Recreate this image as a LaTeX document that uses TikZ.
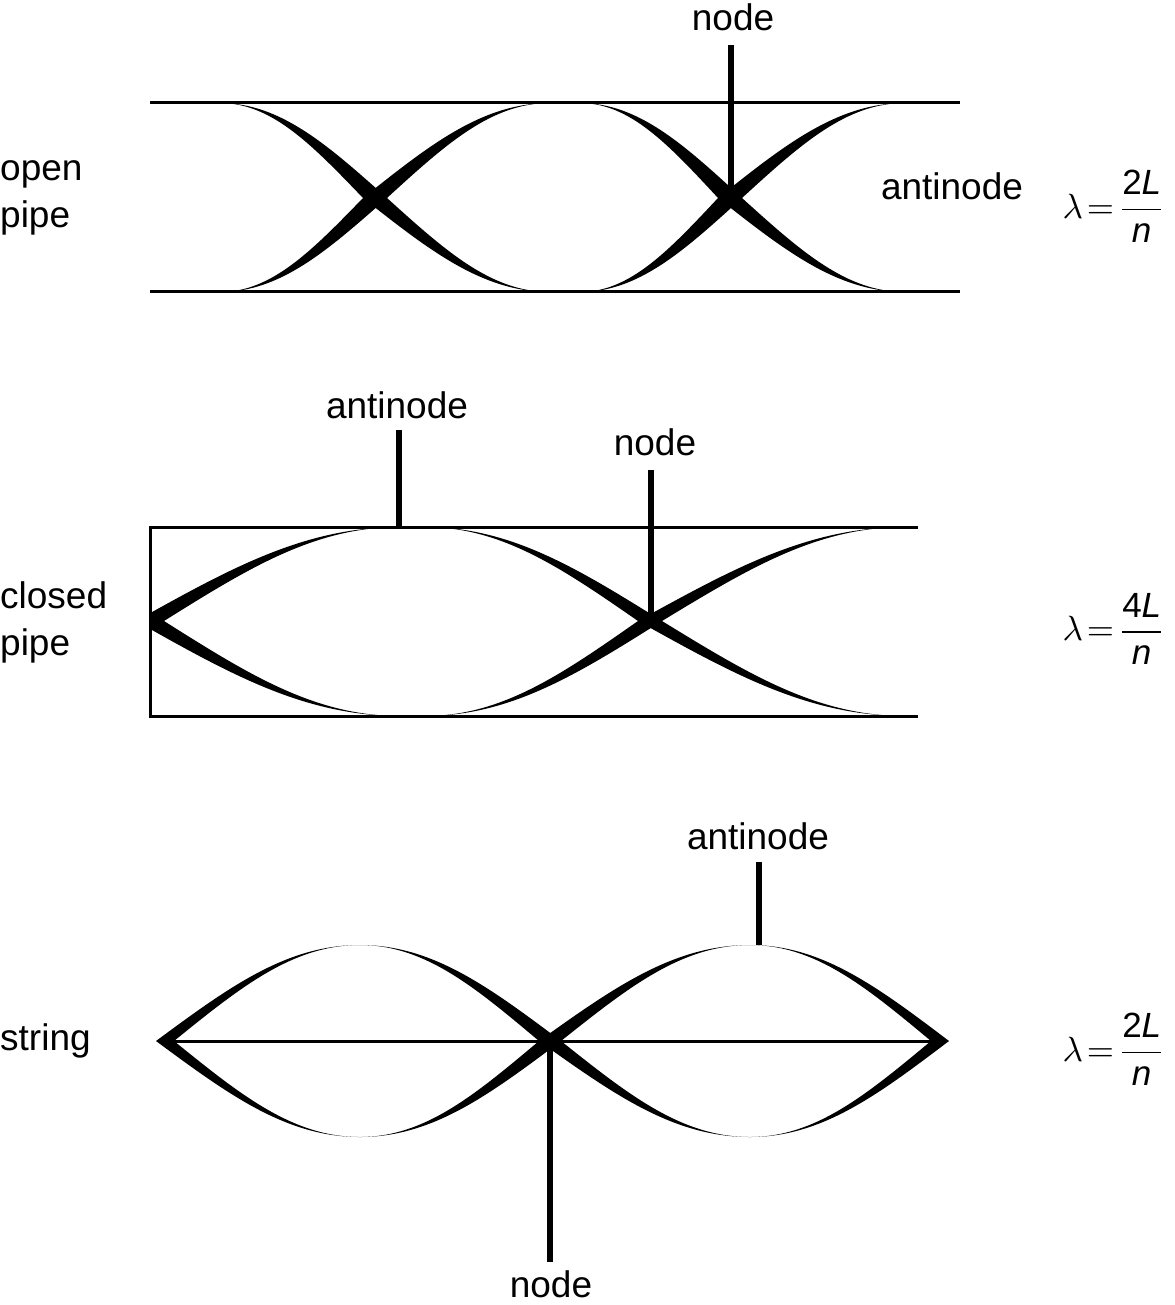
\documentclass[tikz,border=0pt]{standalone}
\usepackage{fontspec}
\setmainfont{Liberation Sans}
\newcommand\qw[5]{%
\fill ({#3-#5},#4) .. controls ({#3-#5+0.36*(#1-#3+#5)},{#4+0.565*(#2-#4)}) and ({#3-#5+0.64*(#1-#3+#5)},#2) .. (#1,#2)
 .. controls ({#3+#5+0.64*(#1-#3-#5)},#2) and ({#3+#5+0.36*(#1-#3-#5)},{#4+0.565*(#2-#4)}) .. ({#3+#5},#4) -- cycle;}
\newcommand\lamf[1]{\scalebox{3.5}{$\displaystyle\lambda\!=\!\frac{\mbox{#1\textit{L}}}{\mbox{\textit{n}}}$}}
\begin{document}
\begin{tikzpicture}[x=1pt,y=-1pt,
  lbl/.style={font=\fontsize{37}{47}\selectfont, inner sep=0pt},
  frm/.style={inner sep=0pt},
  pipeline/.style={line width=3pt},
  stick/.style={line width=6pt}]
\useasboundingbox (0,0) rectangle (1174,1305);
% ---------- open pipe
\draw[pipeline] (150,103) -- (960,103);
\draw[pipeline] (150,292) -- (960,292);
\qw{220}{103}{375}{198}{12}\qw{220}{292}{375}{198}{12}
\qw{550}{103}{375}{198}{12}\qw{550}{292}{375}{198}{12}
\qw{580}{103}{730}{198}{12}\qw{580}{292}{730}{198}{12}
\qw{905}{103}{730}{198}{12}\qw{905}{292}{730}{198}{12}
\coordinate (n1) at (731,198);
\node[lbl] (n1l) at (733,17) {node};
\draw[stick] (n1) -- (731,45);
\node[lbl] (a1) at (952,186) {antinode};
\node[lbl,align=left,anchor=west] (op) at (0,198) {open\\pipe};
\node[frm] (f1) at (1114,206) {\lamf{2}};
% ---------- closed pipe
\draw[pipeline] (918,527) -- (150,527) -- (150,716) -- (918,716);
\begin{scope}
\clip (150,400) rectangle (1000,800);
\qw{400}{527}{150}{621}{14}\qw{400}{716}{150}{621}{14}
\end{scope}
\qw{425}{527}{650}{621}{12}\qw{425}{716}{650}{621}{12}
\qw{905}{527}{650}{621}{12}\qw{905}{716}{650}{621}{12}
\coordinate (a2p) at (399,527);
\coordinate (n2p) at (651,621);
\draw[stick] (a2p) -- (399,430);
\node[lbl] (a2) at (397,405) {antinode};
\draw[stick] (n2p) -- (651,470);
\node[lbl] (n2) at (655,442) {node};
\node[lbl,align=left,anchor=west] (cp) at (0,622) {closed\\pipe};
\node[frm] (f2) at (1114,629) {\lamf{4}};
% ---------- string
\draw[pipeline] (165,1041) -- (940,1041);
\qw{360}{945}{165}{1041}{9}\qw{360}{1137}{165}{1041}{9}
\qw{360}{945}{550}{1041}{11}\qw{360}{1137}{550}{1041}{11}
\qw{750}{945}{550}{1041}{11}\qw{750}{1137}{550}{1041}{11}
\qw{750}{945}{940}{1041}{9}\qw{750}{1137}{940}{1041}{9}
\coordinate (n3p) at (550,1041);
\coordinate (a3p) at (759,945);
\draw[stick] (n3p) -- (550,1262);
\node[lbl] (n3) at (551,1284) {node};
\draw[stick] (a3p) -- (759,862);
\node[lbl] (a3) at (758,836) {antinode};
\node[lbl,anchor=west] (st) at (0,1041) {string};
\node[frm] (f3) at (1114,1049) {\lamf{2}};
\end{tikzpicture}
\end{document}
